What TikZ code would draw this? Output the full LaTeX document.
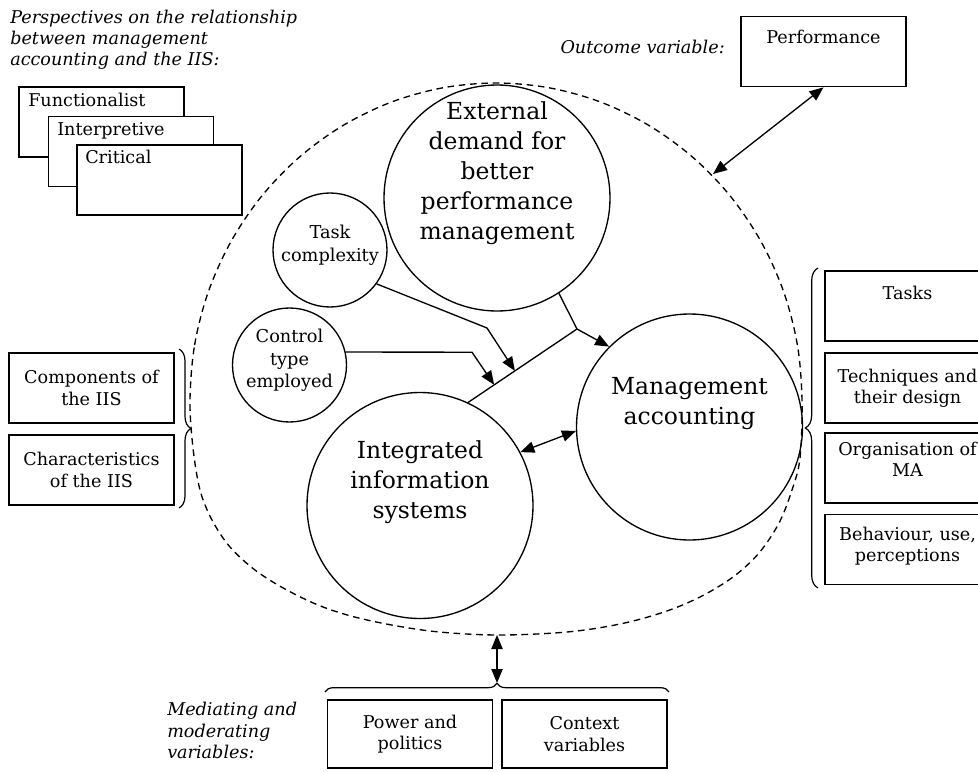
\documentclass[tikz,border=0pt]{standalone}
\usepackage{fontspec}
\setmainfont{DejaVu Serif}
\usetikzlibrary{arrows.meta,decorations.pathreplacing,calc}
\newcommand\fbody{\fontsize{13.2}{15.9}\selectfont}
\newcommand\fbig{\fontsize{17.6}{22.5}\selectfont}
\newcommand\fsmall{\fontsize{13.3}{16.9}\selectfont}
\begin{document}
\begin{tikzpicture}[x=0.75pt,y=-0.75pt,
  box/.style={draw, line width=1.3pt, fill=white, minimum width=123.75pt, minimum height=52.5pt, inner sep=0pt, align=center, font=\fbody},
  bigc/.style={draw, circle, line width=1pt, minimum size=169.5pt, inner sep=0pt},
  smallc/.style={draw, circle, line width=1pt, minimum size=85.5pt, inner sep=0pt},
  txt/.style={align=center, inner sep=0pt, font=\fbody},
  itxt/.style={align=left, inner sep=0pt, font=\fbody\itshape},
  con/.style={line width=1pt},
  arr/.style={line width=1pt, -{Triangle[length=10.5pt,width=8.5pt]}},
  darr/.style={line width=1pt, {Triangle[length=10.5pt,width=8.5pt]}-{Triangle[length=10.5pt,width=8.5pt]}},
  bracel/.style={line width=0.9pt, decorate, decoration={brace, amplitude=#1}},
  dashline/.style={line width=1pt, dash pattern=on 5pt off 3.5pt}
]
\useasboundingbox (0,0) rectangle (978,771);

% dashed boundary
\draw[dashline] plot[smooth cycle, tension=0.55] coordinates {
 (190,400) (194.6,345) (208.4,291.6) (231,241.5) (261.6,196.2) (299.3,157.2) (343,125.5) (391.3,102.1) (442.9,87.8) (496,83)
 (549.1,87.8) (600.7,102.1) (649,125.5) (692.7,157.2) (730.4,196.2) (761,241.5) (783.6,291.6) (797.4,345) (802,400)
 (800,458) (792,490) (779,523) (759,553) (733,577) (700,597) (664,612) (620,624) (567,632) (497,635)
 (430,631) (367,620) (323,607) (285,589) (255,570) (230,547) (212,520) (200,490) (193,448)};

% heading texts
\node[itxt, anchor=west] (persp) at (10,39.5) {Perspectives on the relationship\\between management\\accounting and the IIS:};
\node[itxt, anchor=east] (outc) at (725,47) {Outcome variable:};
\node[itxt, anchor=west] (medi) at (167,730.5) {Mediating and\\moderating\\variables:};

% stacked perspective boxes
\node[box] (fun) at (101.5,122) {};
\node[txt, anchor=west] (funt) at (28,100) {Functionalist};
\node[box] (int) at (131,151.5) {};
\node[txt, anchor=west] (intt) at (57,131) {Interpretive};
\node[box] (cri) at (159.5,180) {};
\node[txt, anchor=west] (crit) at (85,157) {Critical};

% performance
\node[box] (perf) at (823.5,51.5) {};
\node[txt] (perft) at (823.5,37) {Performance};

% circles
\node[bigc] (ext) at (497,198) {};
\node[txt, font=\fbig] (extt) at (497,173) {External\\demand for\\better\\performance\\management};
\node[smallc] (task) at (330,250) {};
\node[txt, font=\fsmall] (taskt) at (330,245) {Task\\complexity};
\node[smallc] (ctrl) at (289.5,365) {};
\node[txt, font=\fsmall] (ctrlt) at (289.5,360.5) {Control\\type\\employed};
\node[bigc] (iis) at (420,505.5) {};
\node[txt, font=\fbig] (iist) at (420,482) {Integrated\\information\\systems};
\node[bigc] (ma) at (689.5,427) {};
\node[txt, font=\fbig] (mat) at (689.5,404) {Management\\accounting};

% left boxes
\node[box] (comp) at (91.5,388) {Components of\\the IIS};
\node[box] (char) at (91.5,470) {Characteristics\\of the IIS};

% right boxes
\node[box] (tasks) at (907.5,306) {};
\node[txt] (taskst) at (907.5,293) {Tasks};
\node[box] (tech) at (907.5,388) {Techniques and\\their design};
\node[box] (org) at (907.5,468) {};
\node[txt] (orgt) at (907.5,459) {Organisation of\\MA};
\node[box] (beh) at (907.5,549.5) {};
\node[txt] (beht) at (907.5,546.5) {Behaviour, use,\\perceptions};

% bottom boxes
\node[box, minimum height=51pt] (pow) at (410,734) {Power and\\politics};
\node[box, minimum height=51pt] (ctx) at (584.5,734) {Context\\variables};

% braces
\draw[bracel=9pt] (179,349) -- (179,508);
\draw[bracel=9.5pt] (818,588) -- (818,268);
\draw[bracel=6.5pt] (325,692) -- (669,692);

% connectors
\coordinate (J) at (577,329);
\coordinate (tb) at (487,328);
\coordinate (cb) at (472,352.2);
\coordinate (ep) at (713,174);
\coordinate (eb) at (497,635);
\coordinate (bt) at (497,683);
\draw[con] (ext.-57) -- (J);
\draw[arr] (J) -- (ma.135);
\draw[con] (iis.65) -- (J);
\draw[arr] (task.-36) -- (tb) -- ($(iis.65)!0.43!(J)$);
\draw[arr] (ctrl.13) -- (cb) -- ($(iis.65)!0.24!(J)$);
\draw[darr] (iis.28) -- (ma.182);
\draw[darr] (ep) -- (perf.south);
\draw[darr] (eb) -- (bt);
\end{tikzpicture}
\end{document}
